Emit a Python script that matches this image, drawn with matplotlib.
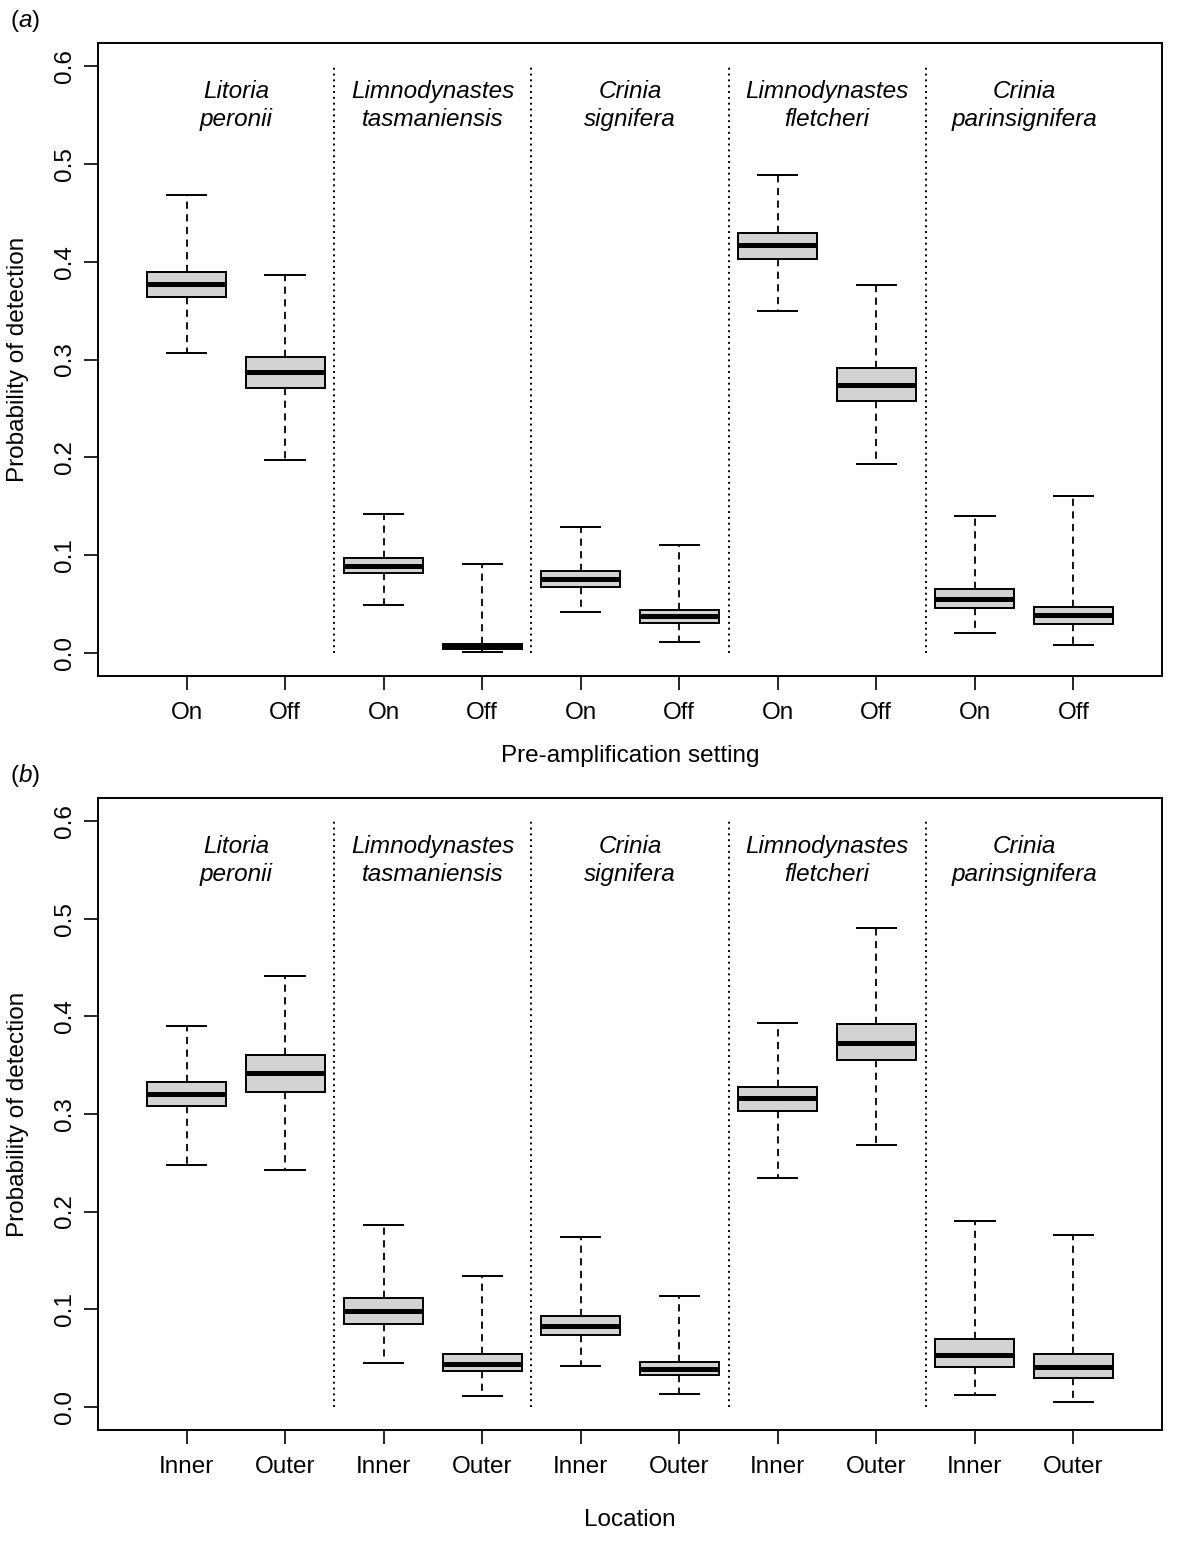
import matplotlib
matplotlib.use("Agg")
import matplotlib.pyplot as plt

plt.rcParams["font.family"] = ["Liberation Sans", "DejaVu Sans"]
plt.rcParams["mathtext.fontset"] = "custom"
plt.rcParams["mathtext.rm"] = "Liberation Sans"
plt.rcParams["mathtext.it"] = "Liberation Sans:italic"

# Specie (una coppia di box per specie)
specie_riga1 = ["Litoria", "Limnodynastes", "Crinia", "Limnodynastes", "Crinia"]
specie_riga2 = ["peronii", "tasmaniensis", "signifera", "fletcheri", "parinsignifera"]

# Pannello (a): pre-amplificazione On/Off
etichette_a = ["On", "Off"] * 5
whislo_a = [0.307, 0.197, 0.049, 0.0005, 0.042, 0.011, 0.350, 0.193, 0.020, 0.0074]
q1_a = [0.364, 0.271, 0.081, 0.004, 0.067, 0.030, 0.403, 0.258, 0.046, 0.029]
med_a = [0.377, 0.287, 0.089, 0.0066, 0.075, 0.037, 0.417, 0.274, 0.055, 0.038]
q3_a = [0.3895, 0.303, 0.097, 0.009, 0.083, 0.044, 0.430, 0.291, 0.065, 0.047]
whishi_a = [0.468, 0.386, 0.142, 0.091, 0.129, 0.110, 0.489, 0.376, 0.140, 0.160]

# Pannello (b): posizione Inner/Outer
etichette_b = ["Inner", "Outer"] * 5
whislo_b = [0.248, 0.243, 0.045, 0.011, 0.042, 0.013, 0.234, 0.268, 0.012, 0.005]
q1_b = [0.308, 0.323, 0.085, 0.036, 0.073, 0.032, 0.303, 0.355, 0.041, 0.0295]
med_b = [0.321, 0.342, 0.098, 0.044, 0.083, 0.039, 0.316, 0.373, 0.053, 0.041]
q3_b = [0.333, 0.360, 0.111, 0.054, 0.093, 0.046, 0.328, 0.392, 0.069, 0.054]
whishi_b = [0.390, 0.441, 0.186, 0.134, 0.174, 0.113, 0.393, 0.491, 0.190, 0.1755]

FS = 17.5


def pannello(ax, etichette, wlo, q1, med, q3, whi, xlabel, xlabel_y, lettera):
    stats = []
    for i in range(len(etichette)):
        stats.append(dict(whislo=wlo[i], q1=q1[i], med=med[i], q3=q3[i],
                          whishi=whi[i], fliers=[]))
    pos = list(range(1, len(etichette) + 1))
    ax.bxp(stats, positions=pos, widths=0.8, capwidths=0.4, patch_artist=True,
           showfliers=False,
           boxprops=dict(facecolor="#d3d3d3", edgecolor="black", linewidth=1.4),
           medianprops=dict(color="black", linewidth=3.6, solid_capstyle="butt"),
           whiskerprops=dict(color="black", linewidth=1.3, linestyle=(0, (4, 3))),
           capprops=dict(color="black", linewidth=1.4))

    # Separatori tra specie
    for k in range(1, 5):
        ax.plot([2 * k + 0.5, 2 * k + 0.5], [0, 0.6], color="black",
                linestyle=(0, (1, 2)), linewidth=1.4)

    # Nomi delle specie
    for k in range(5):
        ax.text(2 * k + 1.5, 0.574, specie_riga1[k], ha="center", va="center",
                fontsize=FS, style="italic")
        ax.text(2 * k + 1.5, 0.546, specie_riga2[k], ha="center", va="center",
                fontsize=FS, style="italic")

    ax.set_xlim(0.1, 10.9)
    ax.set_ylim(-0.024, 0.624)
    ax.set_xticks(pos)
    ax.set_xticklabels(etichette)
    ax.set_yticks([0.0, 0.1, 0.2, 0.3, 0.4, 0.5, 0.6])
    ax.set_yticklabels(["0.0", "0.1", "0.2", "0.3", "0.4", "0.5", "0.6"],
                       rotation=90, va="center")
    ax.tick_params(axis="both", labelsize=FS, length=10, width=1.2, direction="out")
    ax.tick_params(axis="x", pad=9)
    ax.tick_params(axis="y", pad=6)
    for s in ax.spines.values():
        s.set_linewidth(1.4)

    ax.set_ylabel("Probability of detection", fontsize=FS, va="center")
    ax.yaxis.set_label_coords(-0.075, 0.5)
    ax.set_xlabel(xlabel, fontsize=FS)
    ax.xaxis.set_label_coords(0.5, xlabel_y)
    ax.xaxis.label.set_va("center")

    ax.text(-0.083, 1.035, "($\\mathit{" + lettera + "}$)", transform=ax.transAxes,
            fontsize=FS, ha="left", va="center")


fig = plt.figure(figsize=(11.77, 15.42), dpi=100)
ax_a = fig.add_axes([98 / 1177, 1 - 676 / 1542, 1064 / 1177, 633 / 1542])
ax_b = fig.add_axes([98 / 1177, 1 - 1430 / 1542, 1064 / 1177, 632 / 1542])

pannello(ax_a, etichette_a, whislo_a, q1_a, med_a, q3_a, whishi_a,
         "Pre-amplification setting", -0.126, "a")
pannello(ax_b, etichette_b, whislo_b, q1_b, med_b, q3_b, whishi_b,
         "Location", -0.142, "b")

fig.savefig("out.png", dpi=100)
